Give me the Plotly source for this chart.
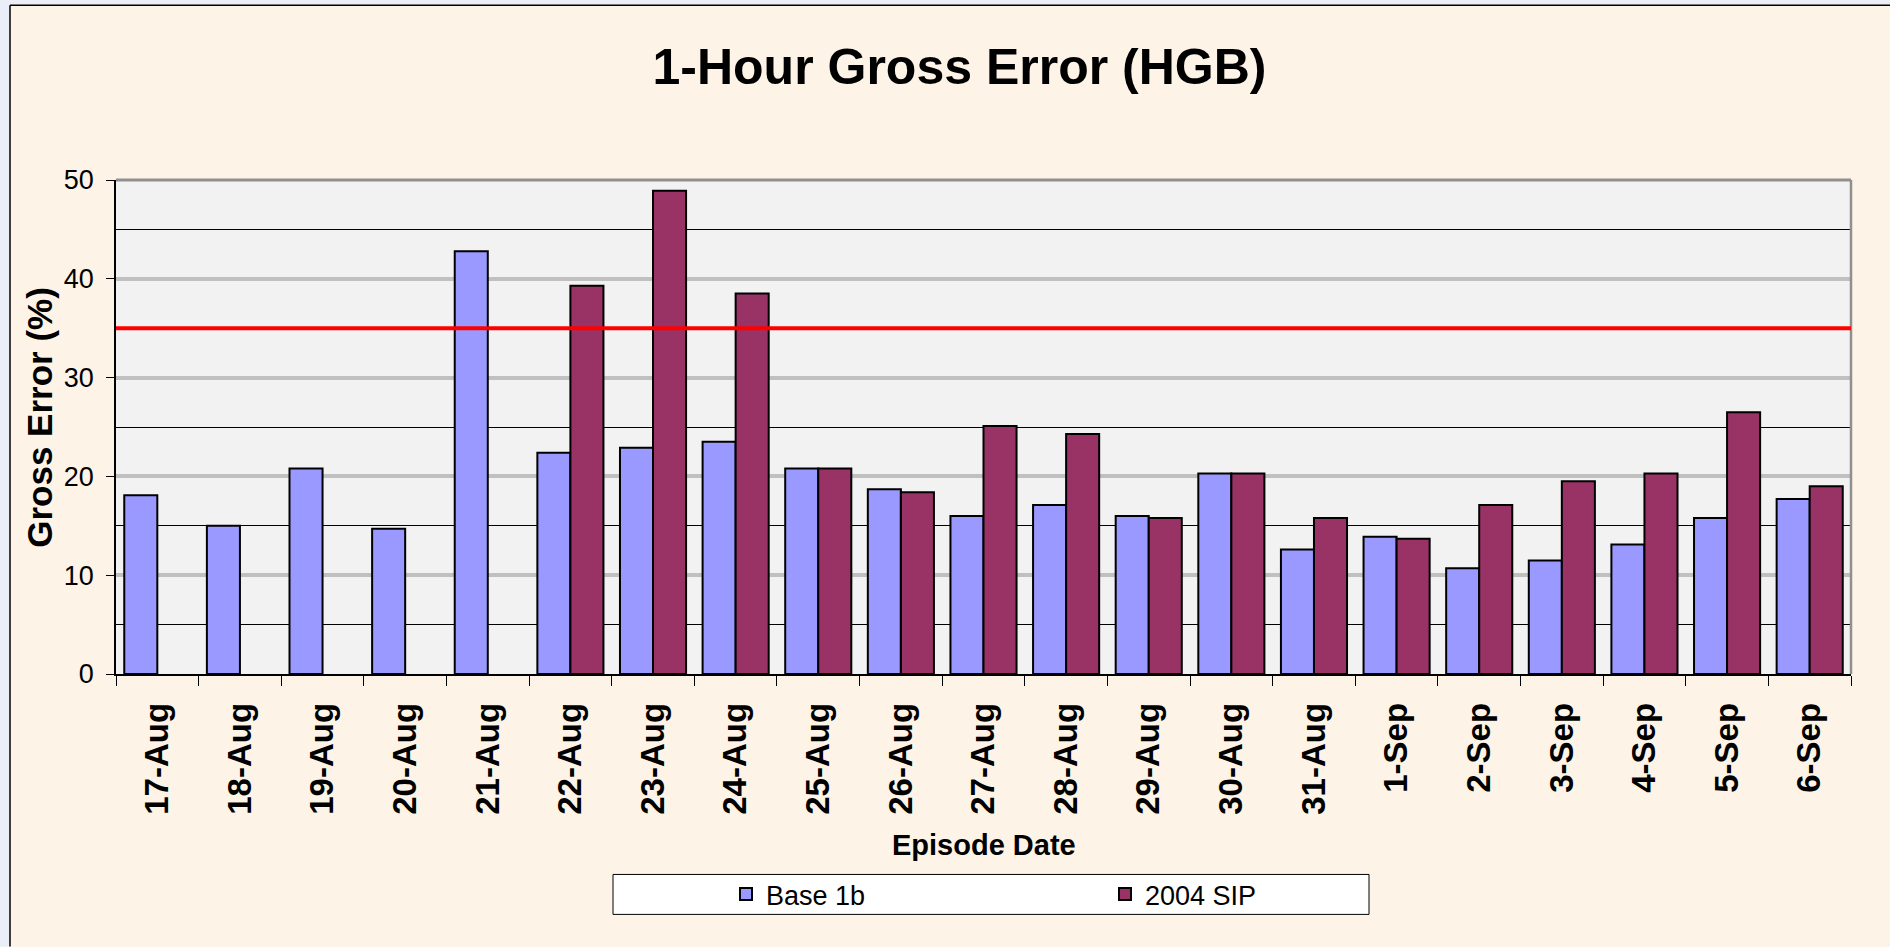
import plotly.graph_objects as go

# ---------------- data ----------------
dates = ["17-Aug", "18-Aug", "19-Aug", "20-Aug", "21-Aug", "22-Aug", "23-Aug",
         "24-Aug", "25-Aug", "26-Aug", "27-Aug", "28-Aug", "29-Aug", "30-Aug",
         "31-Aug", "1-Sep", "2-Sep", "3-Sep", "4-Sep", "5-Sep", "6-Sep"]
base_1b = [18.1, 15.0, 20.8, 14.7, 42.8, 22.4, 22.9,
           23.5, 20.8, 18.7, 16.0, 17.1, 16.0, 20.3,
           12.6, 13.9, 10.7, 11.5, 13.1, 15.8, 17.7]
sip_2004 = [None, None, None, None, None, 39.3, 48.9,
            38.5, 20.8, 18.4, 25.1, 24.3, 15.8, 20.3,
            15.8, 13.7, 17.1, 19.5, 20.3, 26.5, 19.0]
threshold = 35
y_ticks = [0, 10, 20, 30, 40, 50]

# ---------------- layout geometry (pixels) ----------------
W, H = 1890, 947
L, R, T, B = 116, 1851, 180, 674.4
PW, PH = R - L, B - T


def px2x(px):
    return (px - L) / PW


def py2y(py):
    return (B - py) / PH


FONT = "Liberation Sans, Arial, sans-serif"
CREAM = "#fdf3e6"
BLUE_BG = "#e9eef9"

fig = go.Figure()
fig.add_trace(go.Bar(
    x=dates, y=base_1b, name="Base 1b",
    marker=dict(color="#9999ff", line=dict(color="black", width=2)),
))
fig.add_trace(go.Bar(
    x=dates, y=sip_2004, name="2004 SIP",
    marker=dict(color="#993366", line=dict(color="black", width=2)),
))

shapes = [
    # outer light-blue page strips and chart frame lines
    dict(type="rect", xref="paper", yref="paper", x0=px2x(0), x1=px2x(10),
         y0=py2y(H), y1=py2y(0), fillcolor=BLUE_BG, line=dict(width=0), layer="below"),
    dict(type="rect", xref="paper", yref="paper", x0=px2x(0), x1=px2x(W),
         y0=py2y(5), y1=py2y(0), fillcolor=BLUE_BG, line=dict(width=0), layer="below"),
    dict(type="line", xref="paper", yref="paper", x0=px2x(10), x1=px2x(10),
         y0=py2y(H), y1=py2y(5), line=dict(color="black", width=1.5)),
    dict(type="line", xref="paper", yref="paper", x0=px2x(10), x1=px2x(W),
         y0=py2y(5), y1=py2y(5), line=dict(color="black", width=1.5)),
    # plot frame (top and right, gray)
    dict(type="line", xref="paper", yref="paper", x0=0, x1=1, y0=1, y1=1,
         line=dict(color="#8f8f8f", width=3)),
    dict(type="line", xref="paper", yref="paper", x0=1, x1=1, y0=0, y1=1,
         line=dict(color="#8f8f8f", width=2.5)),
    # threshold line
    dict(type="line", xref="paper", yref="y", x0=0, x1=1, y0=threshold, y1=threshold,
         line=dict(color="#ff0000", width=4)),
    # legend box
    dict(type="rect", xref="paper", yref="paper", x0=px2x(613), x1=px2x(1369),
         y0=py2y(915), y1=py2y(875), fillcolor="white",
         line=dict(color="black", width=1), layer="below"),
]

annotations = [
    dict(text="<b>Episode Date</b>", xref="paper", yref="paper",
         x=px2x(984), y=py2y(846), xanchor="center", yanchor="middle",
         showarrow=False, font=dict(family=FONT, size=29, color="black")),
    dict(text="<b>Gross Error (%)</b>", xref="paper", yref="paper",
         x=px2x(40), y=py2y(418), xanchor="center", yanchor="middle",
         textangle=-90, showarrow=False,
         font=dict(family=FONT, size=35, color="black")),
]

fig.update_layout(
    width=W, height=H,
    margin=dict(l=L, r=W - R, t=T, b=H - B, autoexpand=False),
    paper_bgcolor=CREAM, plot_bgcolor="#f2f2f2",
    font=dict(family=FONT, color="black"),
    title=dict(text="<b>1-Hour Gross Error (HGB)</b>", x=959.5 / W, xref="container",
               xanchor="center", y=1 - 66 / H, yref="container", yanchor="middle",
               font=dict(family=FONT, size=50, color="black")),
    barmode="group", bargap=0.2, bargroupgap=0,
    showlegend=True,
    legend=dict(orientation="h", x=px2x(744 - 20 - 6 + 8), xanchor="left",
                y=py2y(895), yanchor="middle", bgcolor="rgba(0,0,0,0)",
                entrywidth=334, entrywidthmode="pixels",
                font=dict(family=FONT, size=27, color="black"), traceorder="normal"),
    shapes=shapes, annotations=annotations,
    xaxis=dict(type="category", showline=True, linecolor="black", linewidth=1.5,
               ticks="outside", tickson="boundaries", ticklen=10, tickcolor="black",
               tickwidth=1, tickangle=-90, ticklabelstandoff=14,
               tickfont=dict(family=FONT, size=33, color="black", weight="bold"),
               showgrid=False, zeroline=False),
    yaxis=dict(range=[0, 50], tickvals=y_ticks, showline=True, linecolor="black",
               linewidth=1.5, ticks="outside", ticklen=8, tickcolor="black",
               ticklabelstandoff=7,
               tickfont=dict(family=FONT, size=27, color="black"),
               showgrid=True, gridcolor="#c0c0c0", gridwidth=4, zeroline=False,
               minor=dict(dtick=5, showgrid=True, gridcolor="black", gridwidth=1,
                          ticks="")),
)

fig.write_html(
    "out.html",
    config={"displayModeBar": False},
    post_script="document.body.style.margin='0';document.body.style.overflow='hidden';",
)
